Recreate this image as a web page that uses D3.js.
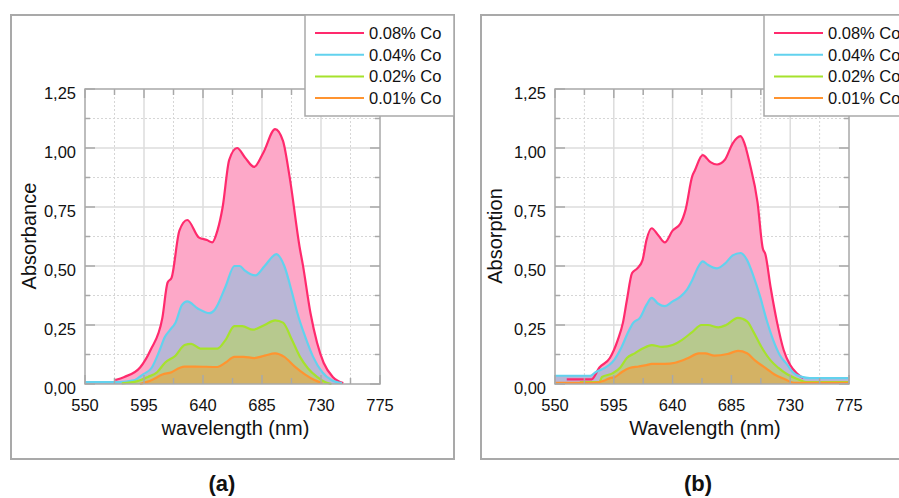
<!DOCTYPE html>
<html>
<head>
<meta charset="utf-8">
<script src="https://cdn.jsdelivr.net/npm/d3@7"></script>
<style>
  body { margin: 0; background: #fff; }
  text { font-family: "Liberation Sans", Arial, sans-serif; fill: #111; }
</style>
</head>
<body>
<svg id="chart" width="899" height="498"></svg>
<script>
// tick values and labels
var xTicks = [550, 595, 640, 685, 730, 775];
var yTicks = [0, 0.25, 0.5, 0.75, 1.0, 1.25];
var seriesNames = ["0.08% Co", "0.04% Co", "0.02% Co", "0.01% Co"];

// panel (a) - [wavelength, absorbance]
var a_co008 = [[573,0.017],[580,0.03],[592,0.07],[600,0.144],[609,0.28],[613,0.43],[616,0.45],[622,0.65],[628,0.695],[637,0.62],[643,0.61],[647,0.60],[651,0.65],[655,0.75],[660,0.95],[666,1.00],[672,0.96],[679,0.92],[686,0.98],[695,1.08],[701,1.03],[706,0.88],[714,0.57],[716,0.51],[722,0.30],[727,0.175],[732,0.09],[739,0.03],[747,0.004]];
var a_co004 = [[550,0.008],[575,0.008],[588,0.017],[594,0.04],[601,0.07],[607,0.144],[611,0.2],[615,0.23],[619,0.26],[624,0.335],[628,0.35],[636,0.32],[645,0.30],[649,0.315],[657,0.41],[664,0.5],[668,0.5],[672,0.48],[680,0.46],[687,0.50],[696,0.55],[702,0.50],[708,0.385],[712,0.30],[718,0.20],[724,0.115],[731,0.05],[738,0.017],[746,0.004]];
var a_co002 = [[578,0.003],[590,0.012],[598,0.03],[605,0.05],[611,0.09],[619,0.12],[626,0.165],[631,0.17],[638,0.15],[651,0.15],[657,0.185],[664,0.245],[670,0.245],[678,0.23],[687,0.25],[695,0.27],[701,0.26],[708,0.185],[714,0.115],[720,0.067],[727,0.03],[733,0.008],[738,0.0]];
var a_co001 = [[592,0.0],[601,0.017],[609,0.04],[616,0.05],[622,0.068],[626,0.074],[634,0.074],[651,0.072],[657,0.09],[664,0.115],[671,0.115],[679,0.11],[687,0.12],[695,0.13],[702,0.115],[710,0.074],[718,0.04],[725,0.017],[731,0.004]];

// panel (b) - [wavelength, absorption]
var b_co008 = [[559,0.02],[578,0.02],[584,0.07],[592,0.11],[598,0.186],[602,0.26],[605,0.355],[609,0.47],[613,0.49],[617,0.525],[620,0.61],[624,0.66],[629,0.63],[634,0.60],[640,0.65],[646,0.68],[650,0.74],[655,0.88],[657,0.905],[663,0.97],[669,0.94],[674,0.93],[680,0.95],[686,1.02],[692,1.05],[695,1.02],[699,0.935],[705,0.77],[709,0.575],[711,0.55],[715,0.41],[720,0.26],[725,0.144],[730,0.08],[735,0.045],[740,0.025]];
var b_co004 = [[550,0.035],[577,0.035],[581,0.05],[588,0.068],[594,0.093],[601,0.157],[606,0.22],[610,0.26],[615,0.28],[620,0.335],[624,0.365],[629,0.34],[634,0.33],[640,0.35],[646,0.37],[651,0.40],[655,0.44],[660,0.50],[663,0.52],[667,0.505],[674,0.49],[680,0.51],[686,0.545],[692,0.555],[697,0.525],[702,0.455],[707,0.37],[712,0.27],[717,0.186],[722,0.123],[728,0.08],[732,0.05],[739,0.03],[745,0.025],[775,0.025]];
var b_co002 = [[569,0.008],[584,0.008],[586,0.03],[594,0.045],[600,0.07],[605,0.11],[611,0.13],[617,0.15],[624,0.165],[632,0.157],[640,0.165],[647,0.186],[655,0.22],[662,0.25],[667,0.25],[675,0.24],[681,0.25],[690,0.28],[697,0.265],[702,0.22],[708,0.157],[715,0.10],[721,0.068],[728,0.04],[736,0.02],[742,0.008],[775,0.008]];
var b_co001 = [[550,0.005],[580,0.005],[588,0.015],[592,0.025],[596,0.03],[601,0.05],[607,0.068],[614,0.074],[620,0.08],[624,0.085],[634,0.085],[642,0.09],[652,0.11],[660,0.13],[665,0.13],[672,0.12],[682,0.127],[690,0.14],[697,0.13],[703,0.10],[711,0.068],[718,0.04],[726,0.02],[733,0.005],[775,0.005]];

var lineColors = ["#ff2a6d", "#62d2ee", "#a6e22c", "#ff9430"];
var fillColors = ["#fda8c8", "#bab6d6", "#b7c98e", "#d4b264"];

var svg = d3.select("#chart");
svg.append("rect").attr("width", 899).attr("height", 498).attr("fill", "#fff");

var fmt = function(v){ return d3.format(".2f")(v).replace(".", ","); };

function drawPanel(p){
    var x = d3.scaleLinear().domain([550, 775]).range([p.left, p.right]);
    var y = d3.scaleLinear().domain([0, 1.25]).range([384, 89]);

    // outer frame
    svg.append("rect")
        .attr("x", p.frameX).attr("y", 15)
        .attr("width", p.frameW).attr("height", 444)
        .attr("fill", "none").attr("stroke", "#a9a9a9").attr("stroke-width", 2);

    var g = svg.append("g");

    // grid: minor dashed, major solid
    var xMinor = d3.range(572.5, 775, 45);
    var yMinor = d3.range(0.125, 1.25, 0.25);
    g.selectAll(".vminor").data(xMinor).enter().append("line")
        .attr("x1", function(d){ return x(d); }).attr("x2", function(d){ return x(d); })
        .attr("y1", y(1.25)).attr("y2", y(0))
        .attr("stroke", "#d6d6d6").attr("stroke-dasharray", "2,2");
    g.selectAll(".hminor").data(yMinor).enter().append("line")
        .attr("x1", p.left).attr("x2", p.right)
        .attr("y1", function(d){ return y(d); }).attr("y2", function(d){ return y(d); })
        .attr("stroke", "#d6d6d6").attr("stroke-dasharray", "2,2");
    g.selectAll(".vmajor").data(xTicks.slice(1, -1)).enter().append("line")
        .attr("x1", function(d){ return x(d); }).attr("x2", function(d){ return x(d); })
        .attr("y1", y(1.25)).attr("y2", y(0))
        .attr("stroke", "#dcdcdc").attr("stroke-width", 1.5);
    g.selectAll(".hmajor").data(yTicks.slice(1, -1)).enter().append("line")
        .attr("x1", p.left).attr("x2", p.right)
        .attr("y1", function(d){ return y(d); }).attr("y2", function(d){ return y(d); })
        .attr("stroke", "#dcdcdc").attr("stroke-width", 1.5);

    // areas + lines, largest first
    var area = d3.area().x(function(d){ return x(d[0]); }).y0(y(0)).y1(function(d){ return y(d[1]); }).curve(d3.curveMonotoneX);
    var line = d3.line().x(function(d){ return x(d[0]); }).y(function(d){ return y(d[1]); }).curve(d3.curveMonotoneX);
    p.series.forEach(function(s, i){
        g.append("path").datum(s).attr("d", area).attr("fill", fillColors[i]);
    });
    p.series.forEach(function(s, i){
        g.append("path").datum(s).attr("d", line).attr("fill", "none")
            .attr("stroke", lineColors[i]).attr("stroke-width", 2.2);
    });

    // plot frame and inward ticks
    g.append("rect").attr("x", p.left).attr("y", y(1.25))
        .attr("width", p.right - p.left).attr("height", y(0) - y(1.25))
        .attr("fill", "none").attr("stroke", "#a8a8a8").attr("stroke-width", 1.5);
    var xt = d3.range(550, 776, 22.5);
    var yt = d3.range(0, 1.26, 0.125);
    xt.forEach(function(v, i){
        var len = i % 2 ? 6 : 9;
        g.append("line").attr("x1", x(v)).attr("x2", x(v)).attr("y1", y(0)).attr("y2", y(0) - len).attr("stroke", "#a8a8a8").attr("stroke-width", 1.5);
        g.append("line").attr("x1", x(v)).attr("x2", x(v)).attr("y1", y(1.25)).attr("y2", y(1.25) + len).attr("stroke", "#a8a8a8").attr("stroke-width", 1.5);
    });
    yt.forEach(function(v, i){
        var len = i % 2 ? 5 : 10;
        g.append("line").attr("x1", p.left).attr("x2", p.left + len).attr("y1", y(v)).attr("y2", y(v)).attr("stroke", "#a8a8a8").attr("stroke-width", 1.5);
        g.append("line").attr("x1", p.right).attr("x2", p.right - len).attr("y1", y(v)).attr("y2", y(v)).attr("stroke", "#a8a8a8").attr("stroke-width", 1.5);
    });

    // tick labels
    g.selectAll(".xl").data(xTicks).enter().append("text")
        .attr("x", function(d){ return x(d); }).attr("y", 411)
        .attr("text-anchor", "middle").style("font-size", "16.5px")
        .text(function(d){ return d; });
    g.selectAll(".yl").data(yTicks).enter().append("text")
        .attr("x", p.left - 9).attr("y", function(d){ return y(d) + 10; })
        .attr("text-anchor", "end").style("font-size", "16.5px")
        .text(fmt);

    // axis titles
    g.append("text").attr("x", (p.left + p.right) / 2 + 3).attr("y", 435)
        .attr("text-anchor", "middle").style("font-size", "20px").text(p.xTitle);
    g.append("text").attr("transform", "translate(" + p.yTitleX + ",236) rotate(-90)")
        .attr("text-anchor", "middle").style("font-size", "20px").text(p.yTitle);

    // legend
    var lg = svg.append("g").attr("transform", "translate(" + p.legendX + ",15)");
    lg.append("rect").attr("width", 149).attr("height", 101)
        .attr("fill", "#fff").attr("stroke", "#a9a9a9").attr("stroke-width", 1.5);
    seriesNames.forEach(function(n, i){
        var yy = 18 + i * 21.7;
        lg.append("line").attr("x1", 10).attr("x2", 59).attr("y1", yy).attr("y2", yy)
            .attr("stroke", lineColors[i]).attr("stroke-width", 2);
        lg.append("text").attr("x", 64).attr("y", yy + 6).style("font-size", "16.5px").text(n);
    });

    // panel label
    svg.append("text").attr("x", p.labelX).attr("y", 491)
        .attr("text-anchor", "middle").style("font-size", "22px").style("font-weight", "bold")
        .text(p.label);
}

drawPanel({
    left: 85, right: 380, frameX: 11, frameW: 443, legendX: 305, labelX: 222,
    xTitle: "wavelength (nm)", yTitle: "Absorbance", yTitleX: 36, label: "(a)",
    series: [a_co008, a_co004, a_co002, a_co001]
});
drawPanel({
    left: 555, right: 849, frameX: 481, frameW: 440, legendX: 764, labelX: 698,
    xTitle: "Wavelength (nm)", yTitle: "Absorption", yTitleX: 502, label: "(b)",
    series: [b_co008, b_co004, b_co002, b_co001]
});
</script>
</body>
</html>
